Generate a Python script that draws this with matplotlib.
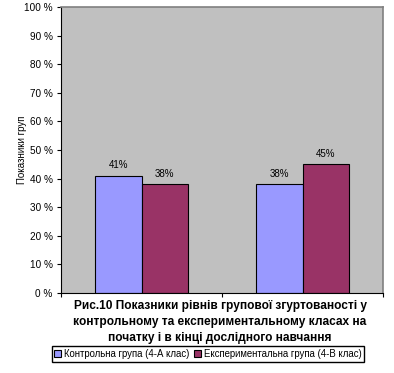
import matplotlib.pyplot as plt
import numpy as np

plt.rcParams['font.family'] = ['Liberation Sans', 'DejaVu Sans']

categories = ['', '']
series = ['Контрольна група (4-А клас)', 'Експериментальна група (4-В клас)']
control = [41, 38]
experiment = [38, 45]
colors = ['#9999FF', '#993366']
yticks = [0, 10, 20, 30, 40, 50, 60, 70, 80, 90, 100]

fig = plt.figure(figsize=(3.94, 3.73), dpi=100)
ax = fig.add_axes([61/394, 1-293/373, 322/394, 286/373])
ax.set_facecolor('#C0C0C0')

x = np.arange(len(categories))
w = 0.29
b1 = ax.bar(x - w/2, control, w, color=colors[0], edgecolor='black', linewidth=0.8, label=series[0])
b2 = ax.bar(x + w/2, experiment, w, color=colors[1], edgecolor='black', linewidth=0.8, label=series[1])
for bars in (b1, b2):
    for r in bars:
        ax.text(r.get_x() + r.get_width()/2, r.get_height() + 2, '%d%%' % r.get_height(),
                ha='center', va='bottom', fontsize=7)

ax.set_xlim(-0.5, 1.5)
ax.set_ylim(0, 100)
ax.set_yticks(yticks)
ax.set_yticklabels(['%d %%' % v for v in yticks], fontsize=7.2)
ax.set_xticks([-0.5, 0.5, 1.5])
ax.set_xticklabels([])
ax.tick_params(axis='both', length=3, width=0.8, direction='out', pad=3)
for s in ('top', 'right'):
    ax.spines[s].set_color('#808080')
    ax.spines[s].set_linewidth(1.2)
for s in ('left', 'bottom'):
    ax.spines[s].set_color('black')
    ax.spines[s].set_linewidth(0.8)
ax.set_ylabel('Показники груп', fontsize=7)
ax.yaxis.set_label_coords(-0.106, 0.5)

fig.text(220/394, 1-322/373,
         'Рис.10 Показники рівнів групової згуртованості у\n'
         'контрольному та експериментальному класах на\n'
         'початку і в кінці дослідного навчання',
         ha='center', va='center', fontsize=8.6, fontweight='bold', linespacing=1.42)

fig.legend(loc='center', bbox_to_anchor=(208/394, 1-354/373), ncol=2, fontsize=6.9,
           frameon=True, fancybox=False, edgecolor='black', framealpha=1,
           handlelength=0.7, handleheight=0.7, handletextpad=0.3, columnspacing=0.5,
           borderpad=0.3, borderaxespad=0)

fig.savefig('out.png', dpi=100)
